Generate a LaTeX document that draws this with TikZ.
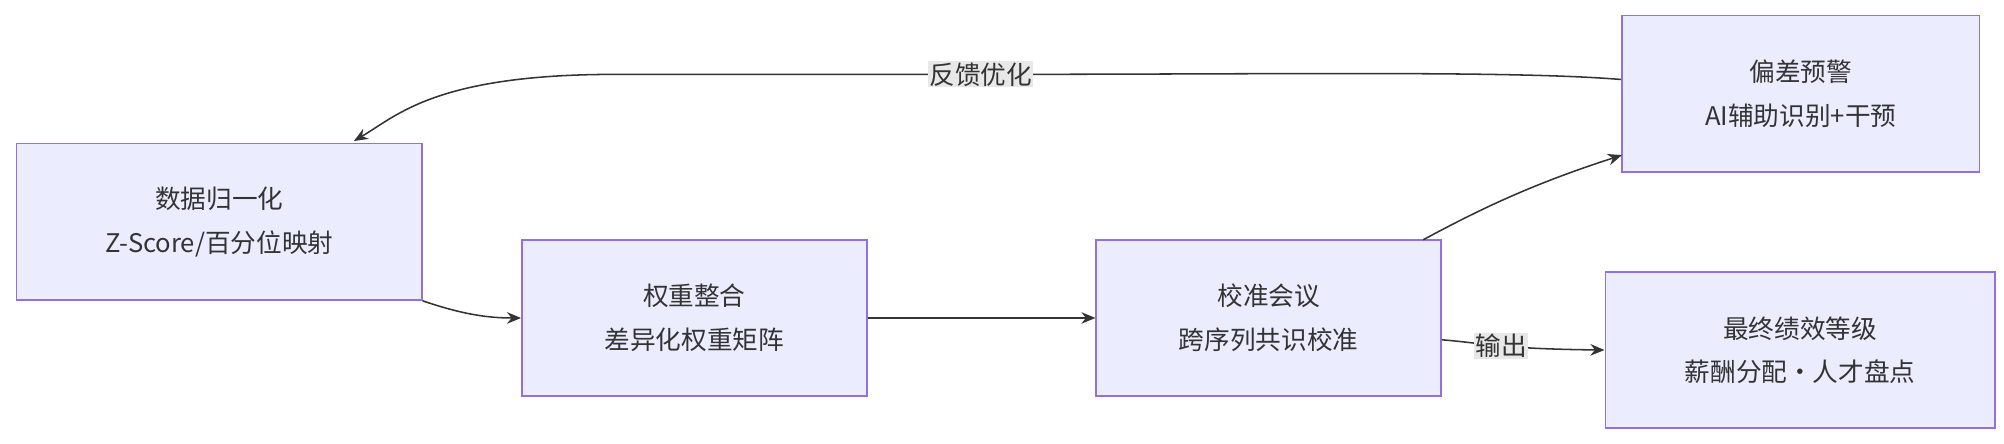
\documentclass[tikz,border=0pt]{standalone}
\usepackage{fontspec}
\setmainfont{Noto Sans CJK SC}
\usetikzlibrary{arrows.meta}
\definecolor{nfill}{HTML}{ECECFF}
\definecolor{nline}{HTML}{9370DB}
\definecolor{lbg}{HTML}{E8E8E8}
\definecolor{ed}{HTML}{333333}
\begin{document}
\begin{tikzpicture}[x=1pt,y=-1pt,
 box/.style={draw=nline,fill=nfill,line width=1.2pt,align=center,font=\fontsize{20}{34}\selectfont,text=ed,inner sep=0pt},
 lab/.style={fill=lbg,font=\fontsize{20}{24}\selectfont,text=ed,inner sep=1pt},
 e/.style={draw=ed,line width=1.2pt,-{Stealth[length=11pt,width=9pt]}}]
\useasboundingbox (0,0) rectangle (1563,346);
\node[box,minimum width=316pt,minimum height=122pt] (a) at (171,173) {数据归一化\\Z-Score/百分位映射};
\node[box,minimum width=269pt,minimum height=122pt] (b) at (541.5,248) {权重整合\\差异化权重矩阵};
\node[box,minimum width=269pt,minimum height=122pt] (c) at (989.5,248) {校准会议\\跨序列共识校准};
\node[box,minimum width=279pt,minimum height=122pt] (d) at (1404.5,73) {偏差预警\\AI辅助识别+干预};
\node[box,minimum width=304pt,minimum height=122pt] (e) at (1404,273) {最终绩效等级\\薪酬分配·人才盘点};
\draw[e] (a.south east) .. controls (360,245) and (380,248) .. (b.west);
\draw[e] (b.east) -- (c.west);
\draw[e] (1110,187) .. controls (1160,160) and (1200,142) .. (1265,121);
\draw[e] (c.east |- 0,265) .. controls (1160,268) and (1170,272) .. node[lab,pos=0.5]{输出} (e.west);
\draw[e] (d.west |- 0,62) .. controls (1180,55) and (1000,58) .. (765,58) node[lab]{反馈优化}
  -- (480,58) .. controls (340,58) and (310,90) .. (276,110);
\end{tikzpicture}
\end{document}
